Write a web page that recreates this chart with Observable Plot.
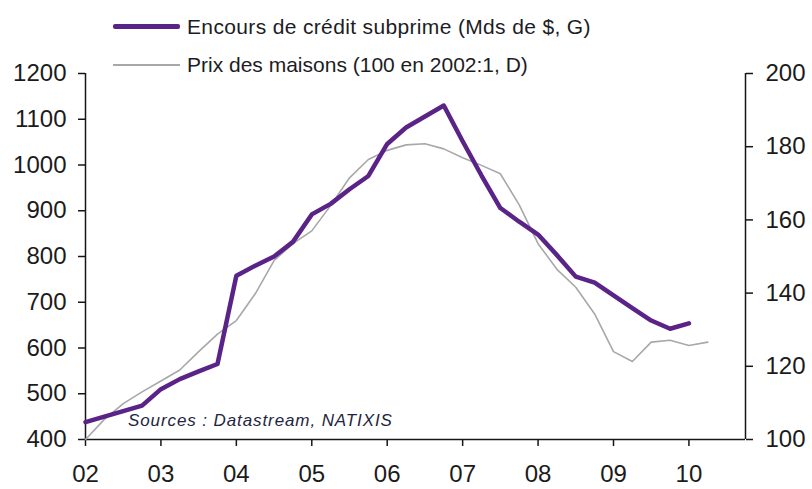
<!DOCTYPE html>
<html>
<head>
<meta charset="utf-8">
<script src="https://cdn.jsdelivr.net/npm/d3@7"></script>
<script src="https://cdn.jsdelivr.net/npm/@observablehq/plot@0.6"></script>
<style>
  body { margin: 0; background: #fff; font-family: "Liberation Sans", Arial, sans-serif; }
  #wrap { position: relative; width: 812px; height: 489px; overflow: hidden; }
  .leg { position: absolute; left: 113px; display: flex; align-items: center; font-size: 21px; color: #1c1c24; white-space: nowrap; line-height: 1; }
  .sw { display: inline-block; width: 67px; margin-right: 7px; }
  #src { position: absolute; left: 128px; top: 411px; font-style: italic; font-size: 17px; letter-spacing: 0.9px; color: #1e2540; white-space: nowrap; line-height: 1.15; }
</style>
</head>
<body>
<div id="wrap">
  <div id="chart"></div>
  <div class="leg" style="top:16px;letter-spacing:0.35px"><span class="sw" style="height:5px;background:#5a2387;border-radius:2px"></span>Encours de crédit subprime (Mds de $, G)</div>
  <div class="leg" style="top:54px"><span class="sw" style="height:2px;background:#a8a8a8"></span>Prix des maisons (100 en 2002:1, D)</div>
  <div id="src">Sources : Datastream, NATIXIS</div>
</div>
<script>
// Quarterly dates (decimal years)
const quarters = [
  2002.00, 2002.25, 2002.50, 2002.75,
  2003.00, 2003.25, 2003.50, 2003.75,
  2004.00, 2004.25, 2004.50, 2004.75,
  2005.00, 2005.25, 2005.50, 2005.75,
  2006.00, 2006.25, 2006.50, 2006.75,
  2007.00, 2007.25, 2007.50, 2007.75,
  2008.00, 2008.25, 2008.50, 2008.75,
  2009.00, 2009.25, 2009.50, 2009.75,
  2010.00, 2010.25
];
// Encours de crédit subprime (Mds de $), left axis
const subprime = [
  438, 450, 462, 474,
  510, 532, 549, 565,
  758, 780, 800, 832,
  892, 915, 947, 976,
  1046, 1082, 1106, 1130,
  1052, 977, 906, 876,
  848, 803, 756, 743,
  715, 687, 660, 642,
  654
];
// Prix des maisons (100 en 2002:1), right axis
const prix = [
  100, 105.5, 109.8, 113,
  116, 119, 124, 128.8,
  132.5, 139.8, 148.9, 153.5,
  157, 163.9, 171.5, 176.5,
  179, 180.5, 180.8, 179.4,
  177, 174.9, 172.6, 164.1,
  153.5, 146.5, 141.6, 134.3,
  124, 121.3, 126.6, 127.1,
  125.7, 126.6
];
const leftTicks = [400, 500, 600, 700, 800, 900, 1000, 1100, 1200];
const rightTicks = [100, 120, 140, 160, 180, 200];
const yearTicks = [2002, 2003, 2004, 2005, 2006, 2007, 2008, 2009, 2010];
const yearLabels = ["02", "03", "04", "05", "06", "07", "08", "09", "10"];

// dual-axis mapping: right [100,200] -> left [400,1200]
const toLeft = v => 400 + (v - 100) * 8;
const fromLeft = v => Math.round((v - 400) / 8 + 100);

const subData = subprime.map((v, i) => ({t: quarters[i], v}));
const prixData = prix.map((v, i) => ({t: quarters[i], v: toLeft(v)}));

const font = '"Liberation Sans", Arial, sans-serif';
const axisColor = "#161616";

const chart = Plot.plot({
  width: 812,
  height: 489,
  marginLeft: 85,
  marginRight: 67,
  marginTop: 73,
  marginBottom: 50,
  style: {fontFamily: font, fontSize: "24px", color: "#1b1b1b", background: "white", overflow: "visible"},
  x: {domain: [2002, 2010.75]},
  y: {domain: [400, 1200]},
  marks: [
    Plot.axisY({anchor: "left", ticks: leftTicks, tickFormat: d => String(d), tickSize: 7, tickPadding: 12, label: null, fontSize: 24, stroke: axisColor, strokeWidth: 1.5}),
    Plot.axisY({anchor: "right", ticks: rightTicks.map(toLeft), tickFormat: d => String(fromLeft(d)), tickSize: 7, tickPadding: 13, label: null, fontSize: 24, stroke: axisColor, strokeWidth: 1.5}),
    Plot.axisX({ticks: yearTicks, tickFormat: d => yearLabels[yearTicks.indexOf(d)], tickSize: 7, tickPadding: 18, label: null, fontSize: 24, stroke: axisColor, strokeWidth: 1.5}),
    Plot.ruleX([2002, 2010.75], {stroke: axisColor, strokeWidth: 1.5}),
    Plot.ruleY([400], {stroke: axisColor, strokeWidth: 1.5}),
    Plot.line(prixData, {x: "t", y: "v", stroke: "#a8a8a8", strokeWidth: 1.6}),
    Plot.line(subData, {x: "t", y: "v", stroke: "#5a2387", strokeWidth: 4.5})
  ]
});
document.getElementById("chart").appendChild(chart);
</script>
</body>
</html>
